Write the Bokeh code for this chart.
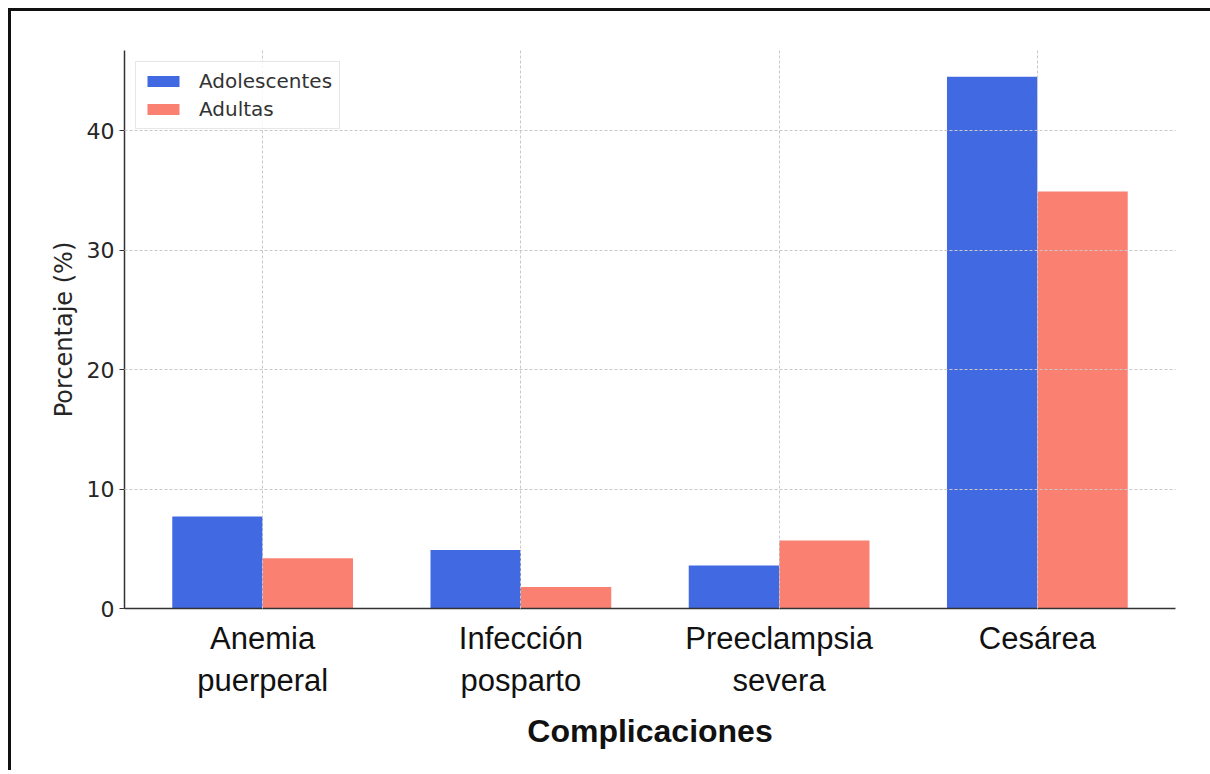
from bokeh.plotting import figure
from bokeh.models import Range1d, FixedTicker, ColumnDataSource
from bokeh.embed import file_html
from bokeh.resources import INLINE

categorias = ["Anemia\npuerperal", "Infección\nposparto", "Preeclampsia\nsevera", "Cesárea"]
adolescentes = [7.7, 4.9, 3.6, 44.5]
adultas = [4.2, 1.8, 5.7, 34.9]
y_ticks = [0, 10, 20, 30, 40]
series = ["Adolescentes", "Adultas"]
colores = ["#4169E1", "#FA8072"]

ancho = 0.35
idx = list(range(len(categorias)))

p = figure(
    output_backend="svg", toolbar_location=None,
    frame_width=1051, frame_height=558,
    min_border_left=113, min_border_top=39, min_border_right=35, min_border_bottom=162,
    x_range=Range1d(-0.535, len(categorias) - 1 + 0.535),
    y_range=Range1d(0, 46.7),
    background_fill_color="white", border_fill_color="white",
    styles={"border-top": "3px solid #111", "border-left": "3px solid #111",
            "margin-left": "8px", "margin-top": "8px"},
)
p.outline_line_color = None

src_a = ColumnDataSource(dict(x=[i - ancho / 2 for i in idx], top=adolescentes))
src_b = ColumnDataSource(dict(x=[i + ancho / 2 for i in idx], top=adultas))
p.vbar(x="x", top="top", width=ancho, source=src_a, fill_color=colores[0],
       line_color=None, legend_label=series[0])
p.vbar(x="x", top="top", width=ancho, source=src_b, fill_color=colores[1],
       line_color=None, legend_label=series[1])

# axes
p.xaxis.ticker = FixedTicker(ticks=idx)
p.xaxis.major_label_overrides = {i: c for i, c in zip(idx, categorias)}
p.yaxis.ticker = FixedTicker(ticks=y_ticks)

for ax in (p.xaxis, p.yaxis):
    ax.axis_line_color = "#333333"
    ax.axis_line_width = 1.5
    ax.minor_tick_line_color = None
    ax.major_tick_line_color = "#333333"
    ax.major_tick_line_width = 1.2
    ax.major_tick_in = 0

p.xaxis.major_tick_out = 0
p.xaxis.major_label_text_font = "Liberation Sans"
p.xaxis.major_label_text_font_size = "31px"
p.xaxis.major_label_text_color = "#111111"
p.xaxis.major_label_standoff = 12
p.xaxis.axis_label = "Complicaciones"
p.xaxis.axis_label_text_font = "Liberation Sans"
p.xaxis.axis_label_text_font_style = "bold"
p.xaxis.axis_label_text_font_size = "32px"
p.xaxis.axis_label_text_color = "#111111"
p.xaxis.axis_label_standoff = 12

p.yaxis.major_tick_out = 5
p.yaxis.major_label_text_font = "DejaVu Sans"
p.yaxis.major_label_text_font_size = "22px"
p.yaxis.major_label_text_color = "#262626"
p.yaxis.major_label_standoff = 5
p.yaxis.axis_label = "Porcentaje (%)"
p.yaxis.axis_label_text_font = "DejaVu Sans"
p.yaxis.axis_label_text_font_style = "normal"
p.yaxis.axis_label_text_font_size = "24px"
p.yaxis.axis_label_text_color = "#262626"
p.yaxis.axis_label_standoff = 6

# grid
for g in (p.xgrid, p.ygrid):
    g.grid_line_color = "#c8c8c8"
    g.grid_line_dash = "3 2"
    g.grid_line_width = 1
    g.level = "guide"
p.xgrid.ticker = FixedTicker(ticks=idx)
p.ygrid.ticker = FixedTicker(ticks=y_ticks[1:])

# legend
lg = p.legend[0]
lg.location = "top_left"
lg.margin = 11
lg.padding = 7
lg.spacing = 4
lg.glyph_width = 40
lg.glyph_height = 14
lg.label_standoff = 16
lg.label_text_font = "DejaVu Sans"
lg.label_text_font_size = "20px"
lg.label_text_color = "#333333"
lg.border_line_color = "#d0d0d0"
lg.border_line_width = 1
lg.background_fill_alpha = 0.85

open("out.html", "w").write(file_html(p, INLINE))
